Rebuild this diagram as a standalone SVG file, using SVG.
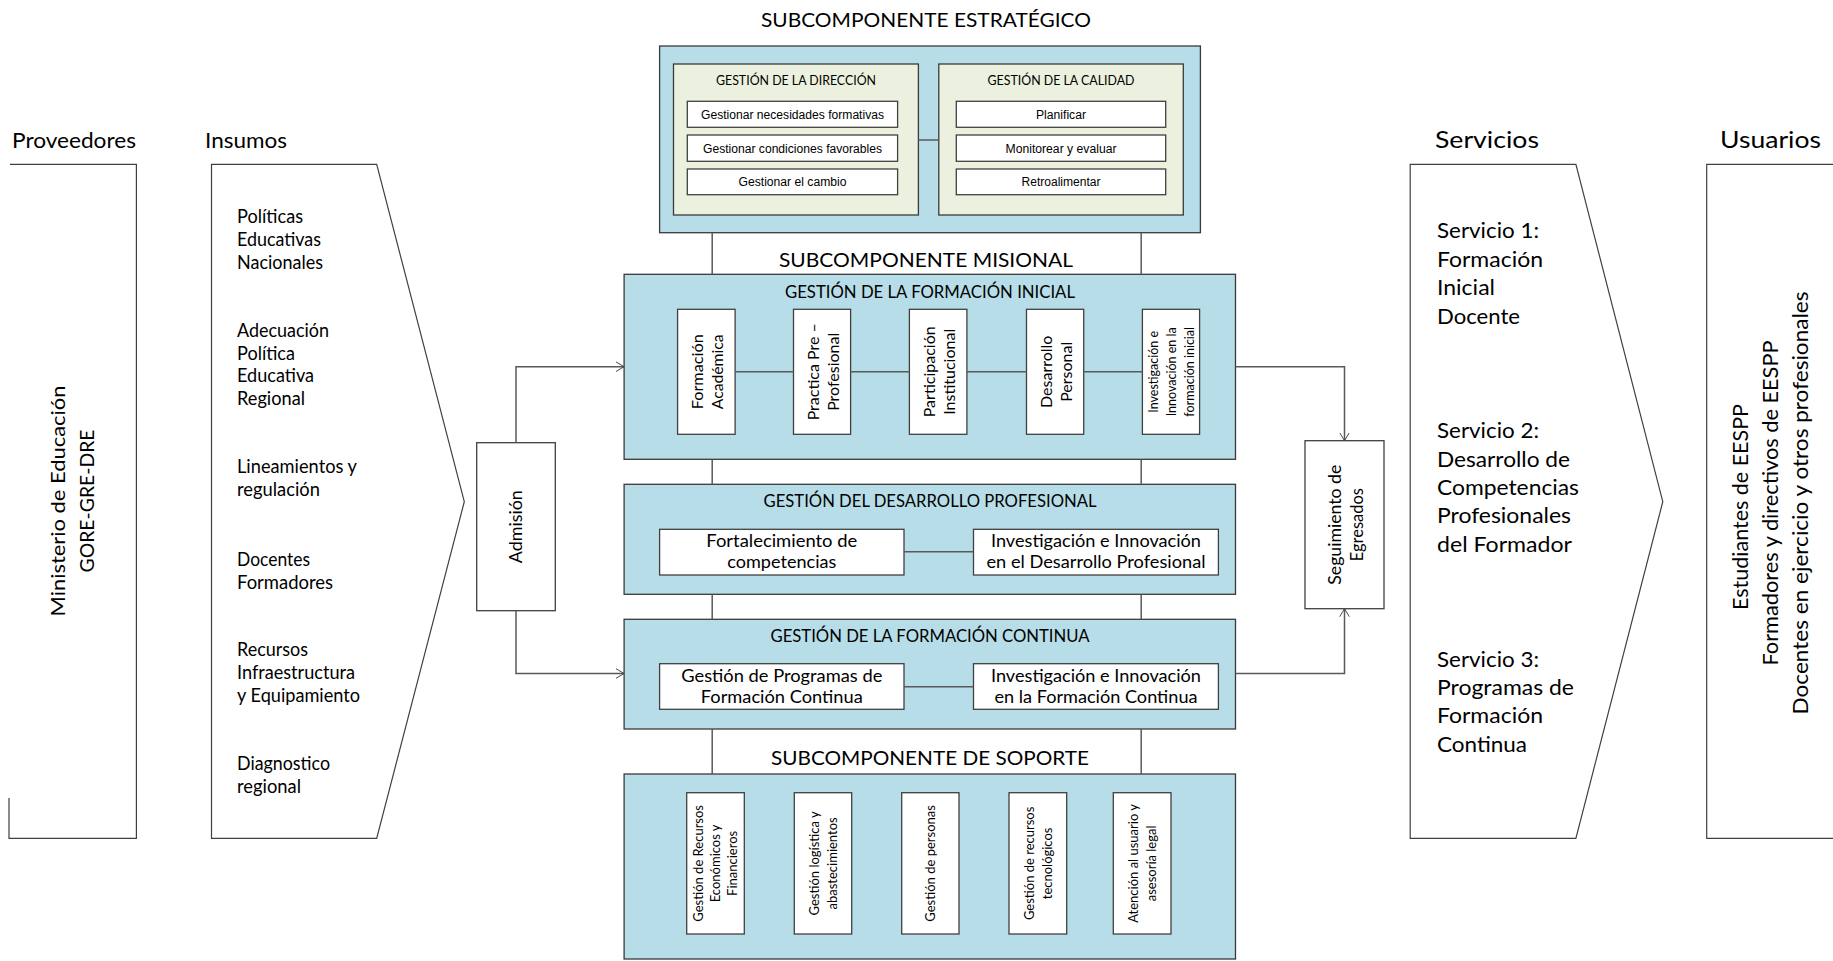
<svg xmlns="http://www.w3.org/2000/svg" width="1833" height="961" viewBox="0 0 1833 961">
<style>
text{font-family:Lato,"Open Sans","Liberation Sans",sans-serif;fill:#000}
.m{text-anchor:middle}
.nar{font-family:"Liberation Sans",Arial,sans-serif;font-size:12.5px;text-anchor:middle}
.hd{font-size:21px}
.hd2{font-size:24px}
.ins{font-size:18.5px}
.srv{font-size:21px}
.t1{font-size:20px;text-anchor:middle}
.us{font-size:21.5px;text-anchor:middle}
.t2{font-size:16.5px;text-anchor:middle}
.t3{font-size:12.5px;text-anchor:middle}
.bx{font-size:16.5px;text-anchor:middle}
.vb{font-size:16px;text-anchor:middle}
.vs{font-size:12.5px;text-anchor:middle}
.sp{font-size:13px;text-anchor:middle}
.blue{fill:#b7dde8;stroke:#3a3a3a;stroke-width:1.3}
.green{fill:#ebf1de;stroke:#3a3a3a;stroke-width:1.3}
.wb{fill:#fff;stroke:#404040;stroke-width:1.3}
.out{fill:none;stroke:#404040;stroke-width:1.2}
.ln{fill:none;stroke:#595959;stroke-width:1.5}
</style>
<defs>
<marker id="arr" viewBox="0 0 10 12" refX="10" refY="6" markerWidth="8" markerHeight="11" orient="auto" markerUnits="userSpaceOnUse">
<path d="M0,0 L10,6 L0,12" fill="none" stroke="#404040" stroke-width="1.2"/>
</marker>
</defs>

<g id="headers">
<text class="hd" x="12" y="148" textLength="124" lengthAdjust="spacingAndGlyphs">Proveedores</text>
<text class="hd" x="205" y="148" textLength="82" lengthAdjust="spacingAndGlyphs">Insumos</text>
<text class="hd2" x="1435" y="148" textLength="104" lengthAdjust="spacingAndGlyphs">Servicios</text>
<text class="hd2" x="1720" y="148" textLength="101" lengthAdjust="spacingAndGlyphs">Usuarios</text>
</g>

<g id="proveedores">
<path class="out" d="M10,164.3 H136.4 V838.3 H9 V798"/>
<g transform="translate(72,501) rotate(-90)">
<text class="t1" x="0" y="-7" textLength="231" lengthAdjust="spacingAndGlyphs">Ministerio de Educación</text>
<text class="t1" x="0" y="22" textLength="143" lengthAdjust="spacingAndGlyphs">GORE-GRE-DRE</text>
</g>
</g>

<g id="insumos">
<polygon class="out" points="211.5,164.3 376.7,164.3 464.3,501.7 376.7,838.3 211.5,838.3"/>
<g class="ins">
<text x="237" y="222.7" textLength="66" lengthAdjust="spacingAndGlyphs">Políticas</text>
<text x="237" y="245.7" textLength="84" lengthAdjust="spacingAndGlyphs">Educativas</text>
<text x="237" y="268.5" textLength="86" lengthAdjust="spacingAndGlyphs">Nacionales</text>
<text x="237" y="336.7" textLength="92" lengthAdjust="spacingAndGlyphs">Adecuación</text>
<text x="237" y="359.5" textLength="58" lengthAdjust="spacingAndGlyphs">Política</text>
<text x="237" y="382.3" textLength="77" lengthAdjust="spacingAndGlyphs">Educativa</text>
<text x="237" y="405" textLength="68" lengthAdjust="spacingAndGlyphs">Regional</text>
<text x="237" y="473.3" textLength="120" lengthAdjust="spacingAndGlyphs">Lineamientos y</text>
<text x="237" y="496" textLength="83" lengthAdjust="spacingAndGlyphs">regulación</text>
<text x="237" y="566" textLength="73" lengthAdjust="spacingAndGlyphs">Docentes</text>
<text x="237" y="588.5" textLength="96" lengthAdjust="spacingAndGlyphs">Formadores</text>
<text x="237" y="656" textLength="71" lengthAdjust="spacingAndGlyphs">Recursos</text>
<text x="237" y="679" textLength="118" lengthAdjust="spacingAndGlyphs">Infraestructura</text>
<text x="237" y="701.7" textLength="123" lengthAdjust="spacingAndGlyphs">y Equipamiento</text>
<text x="237" y="770" textLength="93" lengthAdjust="spacingAndGlyphs">Diagnostico</text>
<text x="237" y="792.7" textLength="64" lengthAdjust="spacingAndGlyphs">regional</text>
</g>
</g>

<g id="admision">
<rect class="wb" x="476.7" y="442.7" width="78.6" height="168"/>
<text class="bx" transform="translate(516,526.7) rotate(-90)" x="0" y="5.5" textLength="73" lengthAdjust="spacingAndGlyphs">Admisión</text>
</g>

<g id="estrategico">
<text class="t1" x="926" y="26.7" textLength="330" lengthAdjust="spacingAndGlyphs">SUBCOMPONENTE ESTRATÉGICO</text>
<rect class="blue" x="659.6" y="46" width="540.8" height="186.7"/>
<g id="direccion">
<rect class="green" x="673.5" y="64" width="244.9" height="151"/>
<text class="t3" x="796" y="85" textLength="160" lengthAdjust="spacingAndGlyphs">GESTIÓN DE LA DIRECCIÓN</text>
<rect class="wb" x="687.3" y="101.3" width="210.3" height="26"/>
<text class="nar" x="792.5" y="118.8" textLength="183" lengthAdjust="spacingAndGlyphs">Gestionar necesidades formativas</text>
<rect class="wb" x="687.3" y="135" width="210.3" height="26.3"/>
<text class="nar" x="792.5" y="152.7" textLength="179" lengthAdjust="spacingAndGlyphs">Gestionar condiciones favorables</text>
<rect class="wb" x="687.3" y="169" width="210.3" height="25.7"/>
<text class="nar" x="792.5" y="186.4" textLength="108" lengthAdjust="spacingAndGlyphs">Gestionar el cambio</text>
</g>
<g id="calidad">
<rect class="green" x="938.8" y="64" width="244.5" height="151"/>
<text class="t3" x="1061" y="85" textLength="147" lengthAdjust="spacingAndGlyphs">GESTIÓN DE LA CALIDAD</text>
<rect class="wb" x="956.3" y="101.3" width="209.4" height="26"/>
<text class="nar" x="1061" y="118.8" textLength="50" lengthAdjust="spacingAndGlyphs">Planificar</text>
<rect class="wb" x="956.3" y="135" width="209.4" height="26.3"/>
<text class="nar" x="1061" y="152.7" textLength="111" lengthAdjust="spacingAndGlyphs">Monitorear y evaluar</text>
<rect class="wb" x="956.3" y="169" width="209.4" height="25.7"/>
<text class="nar" x="1061" y="186.4" textLength="79" lengthAdjust="spacingAndGlyphs">Retroalimentar</text>
</g>
</g>

<g id="misional">
<text class="t1" x="926" y="266.7" textLength="294" lengthAdjust="spacingAndGlyphs">SUBCOMPONENTE MISIONAL</text>
<rect class="blue" x="624.1" y="274.3" width="611.4" height="185"/>
<text class="t2" x="930" y="297.7" textLength="290" lengthAdjust="spacingAndGlyphs">GESTIÓN DE LA FORMACIÓN INICIAL</text>
<g id="fi1">
<rect class="wb" x="677.6" y="309.3" width="57.5" height="125"/>
<g transform="translate(706.4,371.8) rotate(-90)">
<text class="vb" x="0" y="-3.5" textLength="75" lengthAdjust="spacingAndGlyphs">Formación</text>
<text class="vb" x="0" y="16.5" textLength="75" lengthAdjust="spacingAndGlyphs">Académica</text>
</g>
</g>
<g id="fi2">
<rect class="wb" x="793.5" y="309.3" width="57.1" height="125"/>
<g transform="translate(822,371.8) rotate(-90)">
<text class="vb" x="0" y="-3.5">Practica Pre –</text>
<text class="vb" x="0" y="16.5">Profesional</text>
</g>
</g>
<g id="fi3">
<rect class="wb" x="909.4" y="309.3" width="57.5" height="125"/>
<g transform="translate(938.2,371.8) rotate(-90)">
<text class="vb" x="0" y="-3.5">Participación</text>
<text class="vb" x="0" y="16.5">Institucional</text>
</g>
</g>
<g id="fi4">
<rect class="wb" x="1026.5" y="309.3" width="57.2" height="125"/>
<g transform="translate(1055.1,371.8) rotate(-90)">
<text class="vb" x="0" y="-3.5">Desarrollo</text>
<text class="vb" x="0" y="16.5">Personal</text>
</g>
</g>
<g id="fi5">
<rect class="wb" x="1142.4" y="309.3" width="57.2" height="125"/>
<g transform="translate(1171,371.8) rotate(-90)">
<text class="vs" x="0" y="-13">Investigación e</text>
<text class="vs" x="0" y="5">Innovación en la</text>
<text class="vs" x="0" y="23">formación inicial</text>
</g>
</g>
</g>

<g id="desarrollo">
<rect class="blue" x="624.1" y="484.3" width="611.4" height="110"/>
<text class="t2" x="930" y="506.7" textLength="333" lengthAdjust="spacingAndGlyphs">GESTIÓN DEL DESARROLLO PROFESIONAL</text>
<rect class="wb" x="659.6" y="529.3" width="244.4" height="45.7"/>
<text class="bx" x="781.8" y="546.7" textLength="151" lengthAdjust="spacingAndGlyphs">Fortalecimiento de</text>
<text class="bx" x="781.8" y="568.3" textLength="109" lengthAdjust="spacingAndGlyphs">competencias</text>
<rect class="wb" x="973.5" y="529.3" width="244.9" height="45.7"/>
<text class="bx" x="1096" y="546.7" textLength="210" lengthAdjust="spacingAndGlyphs">Investigación e Innovación</text>
<text class="bx" x="1096" y="568.3" textLength="219" lengthAdjust="spacingAndGlyphs">en el Desarrollo Profesional</text>
</g>

<g id="continua">
<rect class="blue" x="624.1" y="619.3" width="611.4" height="109.7"/>
<text class="t2" x="930" y="641.7" textLength="319" lengthAdjust="spacingAndGlyphs">GESTIÓN DE LA FORMACIÓN CONTINUA</text>
<rect class="wb" x="659.6" y="663.7" width="244.4" height="45.6"/>
<text class="bx" x="781.8" y="681.7" textLength="201" lengthAdjust="spacingAndGlyphs">Gestión de Programas de</text>
<text class="bx" x="781.8" y="703.3" textLength="162" lengthAdjust="spacingAndGlyphs">Formación Continua</text>
<rect class="wb" x="973.5" y="663.7" width="244.9" height="45.6"/>
<text class="bx" x="1096" y="681.7" textLength="210" lengthAdjust="spacingAndGlyphs">Investigación e Innovación</text>
<text class="bx" x="1096" y="703.3" textLength="203" lengthAdjust="spacingAndGlyphs">en la Formación Continua</text>
</g>

<g id="soporte">
<text class="t1" x="930" y="765" textLength="318" lengthAdjust="spacingAndGlyphs">SUBCOMPONENTE DE SOPORTE</text>
<rect class="blue" x="624.1" y="774" width="611.4" height="185"/>
<g id="sp1">
<rect class="wb" x="686.7" y="792.7" width="57.6" height="141.3"/>
<g transform="translate(715.5,863.4) rotate(-90)">
<text class="sp" x="0" y="-13">Gestión de Recursos</text>
<text class="sp" x="0" y="4">Económicos y</text>
<text class="sp" x="0" y="21">Financieros</text>
</g>
</g>
<g id="sp2">
<rect class="wb" x="794.3" y="792.7" width="57.4" height="141.3"/>
<g transform="translate(823,863.4) rotate(-90)">
<text class="sp" x="0" y="-4">Gestión logística y</text>
<text class="sp" x="0" y="14">abastecimientos</text>
</g>
</g>
<g id="sp3">
<rect class="wb" x="901.7" y="792.7" width="57.3" height="141.3"/>
<text class="sp" transform="translate(930.3,863.4) rotate(-90)" x="0" y="4.5">Gestión de personas</text>
</g>
<g id="sp4">
<rect class="wb" x="1009" y="792.7" width="57.7" height="141.3"/>
<g transform="translate(1037.8,863.4) rotate(-90)">
<text class="sp" x="0" y="-4">Gestión de recursos</text>
<text class="sp" x="0" y="14">tecnológicos</text>
</g>
</g>
<g id="sp5">
<rect class="wb" x="1113.3" y="792.7" width="57.7" height="141.3"/>
<g transform="translate(1142.2,863.4) rotate(-90)">
<text class="sp" x="0" y="-4">Atención al usuario y</text>
<text class="sp" x="0" y="14">asesoría legal</text>
</g>
</g>
</g>

<g id="seguimiento">
<rect class="wb" x="1305" y="440.7" width="79" height="168"/>
<g transform="translate(1344.5,524.7) rotate(-90)">
<text class="bx" x="0" y="-4" textLength="120" lengthAdjust="spacingAndGlyphs">Seguimiento de</text>
<text class="bx" x="0" y="18">Egresados</text>
</g>
</g>

<g id="servicios">
<polygon class="out" points="1410.2,164.3 1575.9,164.3 1662.8,501.7 1575.9,838.3 1410.2,838.3"/>
<g class="srv">
<text x="1437" y="238.3" textLength="102" lengthAdjust="spacingAndGlyphs">Servicio 1:</text>
<text x="1437" y="266.7" textLength="106" lengthAdjust="spacingAndGlyphs">Formación</text>
<text x="1437" y="295.2" textLength="58" lengthAdjust="spacingAndGlyphs">Inicial</text>
<text x="1437" y="323.5" textLength="83" lengthAdjust="spacingAndGlyphs">Docente</text>
<text x="1437" y="438.3" textLength="102" lengthAdjust="spacingAndGlyphs">Servicio 2:</text>
<text x="1437" y="466.7" textLength="133" lengthAdjust="spacingAndGlyphs">Desarrollo de</text>
<text x="1437" y="495" textLength="142" lengthAdjust="spacingAndGlyphs">Competencias</text>
<text x="1437" y="523.3" textLength="134" lengthAdjust="spacingAndGlyphs">Profesionales</text>
<text x="1437" y="551.7" textLength="135" lengthAdjust="spacingAndGlyphs">del Formador</text>
<text x="1437" y="666.7" textLength="102" lengthAdjust="spacingAndGlyphs">Servicio 3:</text>
<text x="1437" y="695" textLength="137" lengthAdjust="spacingAndGlyphs">Programas de</text>
<text x="1437" y="723.3" textLength="106" lengthAdjust="spacingAndGlyphs">Formación</text>
<text x="1437" y="751.7" textLength="90" lengthAdjust="spacingAndGlyphs">Continua</text>
</g>
</g>

<g id="usuarios">
<path class="out" d="M1840,164.3 H1706.7 V838.3 H1840"/>
<g transform="translate(1778,503) rotate(-90)">
<text class="us" x="-4" y="-30">Estudiantes de EESPP</text>
<text class="us" x="0" y="0" textLength="325" lengthAdjust="spacingAndGlyphs">Formadores y directivos de EESPP</text>
<text class="us" x="0" y="30" textLength="423" lengthAdjust="spacingAndGlyphs">Docentes en ejercicio y otros profesionales</text>
</g>
</g>

<g id="connectors">
<line class="ln" x1="918.4" y1="140" x2="938.8" y2="140"/>
<line class="ln" x1="712.2" y1="232.7" x2="712.2" y2="274.3"/>
<line class="ln" x1="1141.2" y1="232.7" x2="1141.2" y2="274.3"/>
<line class="ln" x1="712.2" y1="459.3" x2="712.2" y2="484.3"/>
<line class="ln" x1="1141.2" y1="459.3" x2="1141.2" y2="484.3"/>
<line class="ln" x1="712.2" y1="594.3" x2="712.2" y2="619.3"/>
<line class="ln" x1="1141.2" y1="594.3" x2="1141.2" y2="619.3"/>
<line class="ln" x1="712.2" y1="729" x2="712.2" y2="774"/>
<line class="ln" x1="1141.2" y1="729" x2="1141.2" y2="774"/>
<line class="ln" x1="735.1" y1="371.7" x2="793.5" y2="371.7"/>
<line class="ln" x1="850.6" y1="371.7" x2="909.4" y2="371.7"/>
<line class="ln" x1="966.9" y1="371.7" x2="1026.5" y2="371.7"/>
<line class="ln" x1="1083.7" y1="371.7" x2="1142.4" y2="371.7"/>
<line class="ln" x1="904" y1="551.7" x2="973.5" y2="551.7"/>
<line class="ln" x1="904" y1="686.7" x2="973.5" y2="686.7"/>
<path class="ln" d="M516,442.7 V366.7 H624" marker-end="url(#arr)"/>
<path class="ln" d="M516,610.7 V673.5 H624" marker-end="url(#arr)"/>
<path class="ln" d="M1235.5,366.7 H1344.5 V440.7" marker-end="url(#arr)"/>
<path class="ln" d="M1235.5,673.5 H1344.5 V608.7" marker-end="url(#arr)"/>
</g>
</svg>
